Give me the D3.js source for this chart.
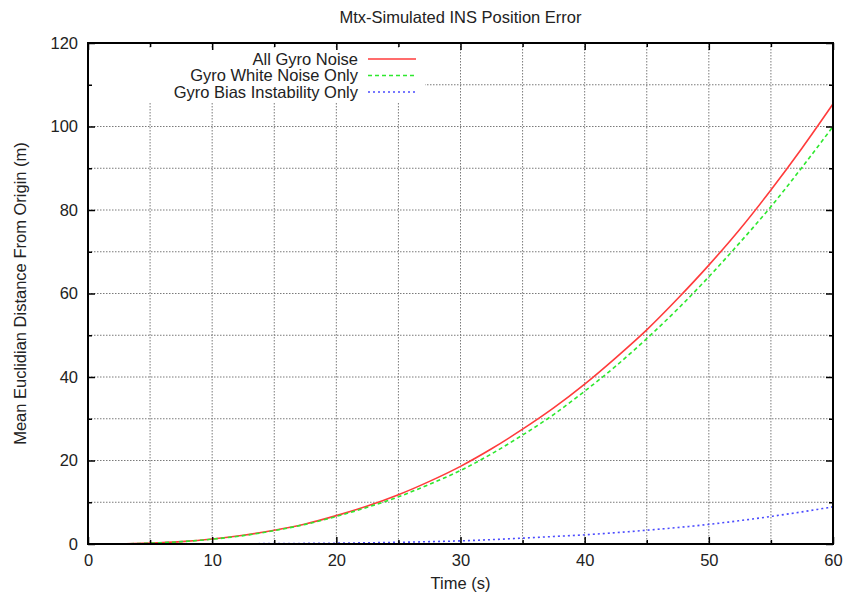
<!DOCTYPE html>
<html>
<head>
<meta charset="utf-8">
<script src="https://cdn.jsdelivr.net/npm/d3@7"></script>
<style>
    body { margin: 0; background: #fff; }
    svg { font-family: "Liberation Sans", Arial, sans-serif; }
</style>
</head>
<body>
<div id="chart"></div>
<script>
//Datos
const TIME = [0, 2.5, 5, 7.5, 10, 12.5, 15, 17.5, 20, 22.5, 25, 27.5, 30, 32.5, 35, 37.5, 40, 42.5, 45, 47.5, 50, 52.5, 55, 57.5, 60];
const ALL_NOISE = [0, 0.03, 0.21, 0.58, 1.2, 2.1, 3.3, 4.8, 6.8, 9.1, 11.8, 15.0, 18.6, 22.8, 27.5, 32.6, 38.3, 44.6, 51.3, 58.8, 66.8, 75.4, 84.8, 94.8, 105.4];
const WHITE_NOISE = [0, 0.03, 0.2, 0.56, 1.15, 2.0, 3.2, 4.7, 6.6, 8.8, 11.3, 14.3, 17.6, 21.6, 26.1, 31.0, 36.6, 42.6, 49.2, 56.3, 64.0, 72.2, 80.8, 90.2, 100.0];
const BIAS_INST = [0, 0, 0.01, 0.02, 0.04, 0.06, 0.1, 0.14, 0.2, 0.29, 0.4, 0.56, 0.75, 1.05, 1.4, 1.8, 2.2, 2.72, 3.3, 3.95, 4.7, 5.6, 6.6, 7.7, 8.9];

const SERIES_NAMES = ['All Gyro Noise', 'Gyro White Noise Only', 'Gyro Bias Instability Only'];
const X_TICKS = [0, 10, 20, 30, 40, 50, 60];
const X_MINOR = [5, 15, 25, 35, 45, 55];
const Y_TICKS = [0, 20, 40, 60, 80, 100, 120];
const Y_MINOR = [10, 30, 50, 70, 90, 110];

//Estilos de las series
const COLORS = ['#ff3b3b', '#2ee82e', '#4b4bff'];
const DASHES = [null, '4,3', '2,3'];
const FONT_SIZE = '16.5px';

let margin = {top: 43, right: 11, bottom: 53, left: 88},
    width = 844 - margin.left - margin.right,
    height = 597 - margin.top - margin.bottom;

let svg = d3.select('#chart')
    .append('svg')
        .attr('width', 844)
        .attr('height', 597);

let g = svg.append('g')
    .attr('transform', 'translate(' + margin.left + ',' + margin.top + ')');

let x = d3.scaleLinear().domain([0, 60]).range([0, width]);
let y = d3.scaleLinear().domain([0, 120]).range([height, 0]);

//Rejilla
let gridX = X_TICKS.concat(X_MINOR).filter(function(d) { return d > 0 && d < 60; });
let gridY = Y_TICKS.concat(Y_MINOR).filter(function(d) { return d > 0 && d < 120; });

g.selectAll('.grid-v')
    .data(gridX)
    .enter()
    .append('line')
    .attr('x1', function(d) { return x(d); })
    .attr('x2', function(d) { return x(d); })
    .attr('y1', 0)
    .attr('y2', height)
    .attr('stroke', '#7a7a7a')
    .attr('stroke-width', 1)
    .attr('stroke-dasharray', '1.5,1.5');

g.selectAll('.grid-h')
    .data(gridY)
    .enter()
    .append('line')
    .attr('x1', 0)
    .attr('x2', width)
    .attr('y1', function(d) { return y(d); })
    .attr('y2', function(d) { return y(d); })
    .attr('stroke', '#7a7a7a')
    .attr('stroke-width', 1)
    .attr('stroke-dasharray', '1.5,1.5');

//Caja de la leyenda (tapa la rejilla)
g.append('rect')
    .attr('x', 1)
    .attr('y', 6)
    .attr('width', 336)
    .attr('height', 53)
    .attr('fill', '#fff');

//Lineas
let seriesData = [ALL_NOISE, WHITE_NOISE, BIAS_INST];

let line = d3.line()
    .x(function(d, i) { return x(TIME[i]); })
    .y(function(d) { return y(d); })
    .curve(d3.curveMonotoneX);

seriesData.forEach(function(values, i) {
    g.append('path')
        .datum(values)
        .attr('fill', 'none')
        .attr('stroke', COLORS[i])
        .attr('stroke-width', 1.6)
        .attr('stroke-dasharray', DASHES[i])
        .attr('d', line);
});

//Marco y ticks
g.append('rect')
    .attr('x', 0)
    .attr('y', 0)
    .attr('width', width)
    .attr('height', height)
    .attr('fill', 'none')
    .attr('stroke', '#000')
    .attr('stroke-width', 2);

let xAxisBottom = d3.axisBottom(x).tickValues(X_TICKS).tickSize(-7).tickPadding(10).tickFormat(d3.format('d'));
let xAxisTop = d3.axisTop(x).tickValues(X_TICKS).tickSize(-7).tickFormat('');
let yAxisLeft = d3.axisLeft(y).tickValues(Y_TICKS).tickSize(-7).tickPadding(10).tickFormat(d3.format('d'));
let yAxisRight = d3.axisRight(y).tickValues(Y_TICKS).tickSize(-7).tickFormat('');

function styleAxis(sel) {
    sel.select('.domain').remove();
    sel.selectAll('.tick line').attr('stroke', '#000').attr('stroke-width', 1.5);
    sel.selectAll('.tick text').attr('fill', '#222').style('font-size', FONT_SIZE);
}

g.append('g').attr('transform', 'translate(0,' + height + ')').call(xAxisBottom).call(styleAxis);
g.append('g').call(xAxisTop).call(styleAxis);
g.append('g').call(yAxisLeft).call(styleAxis);
g.append('g').attr('transform', 'translate(' + width + ',0)').call(yAxisRight).call(styleAxis);

//Ticks menores
g.append('g').attr('transform', 'translate(0,' + height + ')').call(d3.axisBottom(x).tickValues(X_MINOR).tickSize(-4).tickFormat('')).call(styleAxis);
g.append('g').call(d3.axisTop(x).tickValues(X_MINOR).tickSize(-4).tickFormat('')).call(styleAxis);
g.append('g').call(d3.axisLeft(y).tickValues(Y_MINOR).tickSize(-4).tickFormat('')).call(styleAxis);
g.append('g').attr('transform', 'translate(' + width + ',0)').call(d3.axisRight(y).tickValues(Y_MINOR).tickSize(-4).tickFormat('')).call(styleAxis);

//Leyenda
let legend = g.append('g');

SERIES_NAMES.forEach(function(name, i) {
    let ly = 16 + i * 16.5;
    legend.append('text')
        .attr('x', 270)
        .attr('y', ly)
        .attr('dy', '0.35em')
        .attr('text-anchor', 'end')
        .attr('fill', '#222')
        .style('font-size', FONT_SIZE)
        .text(name);
    legend.append('line')
        .attr('x1', 280)
        .attr('x2', 328)
        .attr('y1', ly)
        .attr('y2', ly)
        .attr('stroke', COLORS[i])
        .attr('stroke-width', 1.6)
        .attr('stroke-dasharray', DASHES[i]);
});

//Titulos
svg.append('text')
    .attr('x', margin.left + width / 2)
    .attr('y', 23)
    .attr('text-anchor', 'middle')
    .attr('fill', '#222')
    .style('font-size', FONT_SIZE)
    .text('Mtx-Simulated INS Position Error');

svg.append('text')
    .attr('x', margin.left + width / 2)
    .attr('y', 589)
    .attr('text-anchor', 'middle')
    .attr('fill', '#222')
    .style('font-size', FONT_SIZE)
    .text('Time (s)');

svg.append('text')
    .attr('transform', 'translate(26,' + (margin.top + height / 2) + ') rotate(-90)')
    .attr('text-anchor', 'middle')
    .attr('fill', '#222')
    .style('font-size', FONT_SIZE)
    .text('Mean Euclidian Distance From Origin (m)');
</script>
</body>
</html>
